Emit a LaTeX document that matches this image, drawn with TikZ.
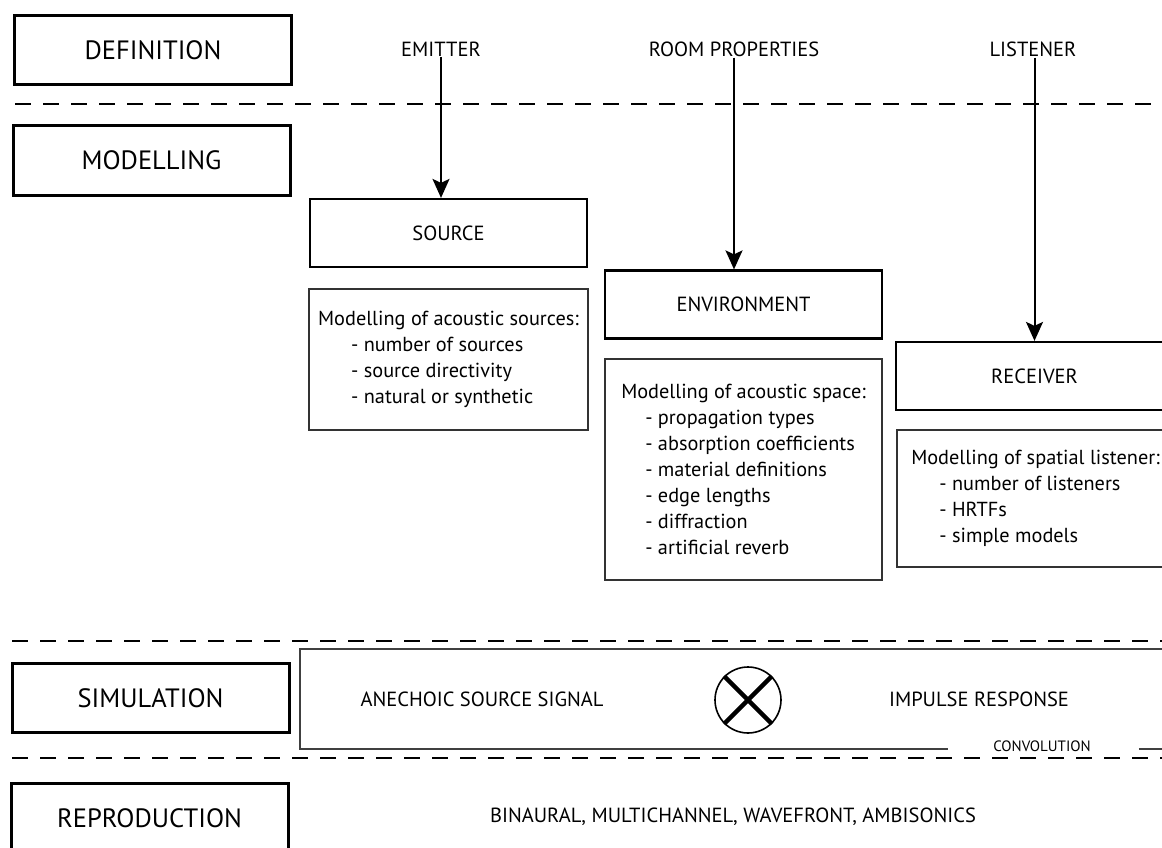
\documentclass[tikz,border=0pt]{standalone}
\usepackage{fontspec}
\setmainfont{PT Sans}
\usetikzlibrary{arrows.meta}
\begin{document}
\begin{tikzpicture}[x=1pt,y=-1pt,
  phase/.style={draw, line width=3pt, minimum width=277pt, minimum height=69pt, inner sep=0pt, font=\fontsize{26.5}{32}\selectfont},
  block/.style={draw, line width=2.2pt, minimum width=277pt, minimum height=68pt, inner sep=0pt, font=\fontsize{20.5}{25}\selectfont},
  descbox/.style={draw=black!80, line width=1.1pt, minimum width=277pt, inner sep=0pt, align=left, font=\fontsize{20.3}{26}\selectfont},
  lbl/.style={inner sep=0pt, font=\fontsize{20.5}{25}\selectfont},
  small/.style={inner sep=0pt, font=\fontsize{15}{18}\selectfont},
  sep/.style={line width=2pt, dash pattern=on 16pt off 12pt},
  arr/.style={line width=2pt, -{Stealth[length=19pt,width=17pt,inset=4pt]}},
  frame/.style={draw=black!75, line width=1.3pt},
]
\useasboundingbox (0,0) rectangle (1162,848);
\clip (0,0) rectangle (1162,848);

% separators
\draw[sep] (15,104) -- (1175,104);
\draw[sep] (12,641) -- (1175,641);
\draw[sep] (12,758) -- (1175,758);

% phase boxes
\node[phase] (definition) at (153,50) {DEFINITION};
\node[phase] (modelling) at (151.5,160.5) {MODELLING};
\node[phase] (simulation) at (150.5,698) {SIMULATION};
\node[phase] (reproduction) at (149.5,818) {REPRODUCTION};

% definition labels
\node[lbl] (emitter) at (441,49) {EMITTER};
\node[lbl] (room) at (734,49) {ROOM PROPERTIES};
\node[lbl] (listener) at (1033,49) {LISTENER};

% modelling blocks
\node[block] (source) at (448.5,233) {SOURCE};
\node[block] (environment) at (743.5,304.5) {ENVIRONMENT};
\node[block] (receiver) at (1034.5,376) {RECEIVER};

\draw[arr] ([yshift=-1pt]emitter.south) -- (emitter.south |- source.north);
\draw[arr] ([yshift=-1pt]room.south) -- (room.south |- environment.north);
\draw[arr] ([yshift=-1pt]listener.south -| receiver.north) -- (receiver.north);

% descriptions
\node[descbox, minimum width=279pt, minimum height=141pt] (srcdesc) at (448.5,359.5)
  {Modelling of acoustic sources:\\
   \hspace*{33pt}- number of sources\\
   \hspace*{33pt}- source directivity\\
   \hspace*{33pt}- natural or synthetic};
\node[descbox, minimum height=221pt] (envdesc) at (743.5,469.5)
  {Modelling of acoustic space:\\
   \hspace*{24pt}- propagation types\\
   \hspace*{24pt}- absorption coefficients\\
   \hspace*{24pt}- material definitions\\
   \hspace*{24pt}- edge lengths\\
   \hspace*{24pt}- diffraction\\
   \hspace*{24pt}- artificial reverb};
\node[descbox, minimum height=137pt] (recdesc) at (1035.5,498.5)
  {Modelling of spatial listener:\\
   \hspace*{28pt}- number of listeners\\
   \hspace*{28pt}- HRTFs\\
   \hspace*{28pt}- simple models};

% simulation
\node[small] (convolution) at (1042,746) {CONVOLUTION};
\draw[frame] (1175,649) -- (300,649) -- (300,749) -- ([xshift=-45pt]convolution.west |- 0,749);
\draw[frame] ([xshift=48pt]convolution.east |- 0,749) -- (1175,749);
\node[lbl] (anechoic) at (482,699) {ANECHOIC SOURCE SIGNAL};
\node[draw, circle, line width=1.6pt, minimum size=66pt, inner sep=0pt] (conv) at (748,700) {};
\draw[line width=4.5pt] (conv.45) -- (conv.225);
\draw[line width=4.5pt] (conv.135) -- (conv.-45);
\node[lbl] (impulse) at (979,699) {IMPULSE RESPONSE};

% reproduction
\node[lbl] (methods) at (733,817) {BINAURAL, MULTICHANNEL, WAVEFRONT, AMBISONICS};
\end{tikzpicture}
\end{document}
